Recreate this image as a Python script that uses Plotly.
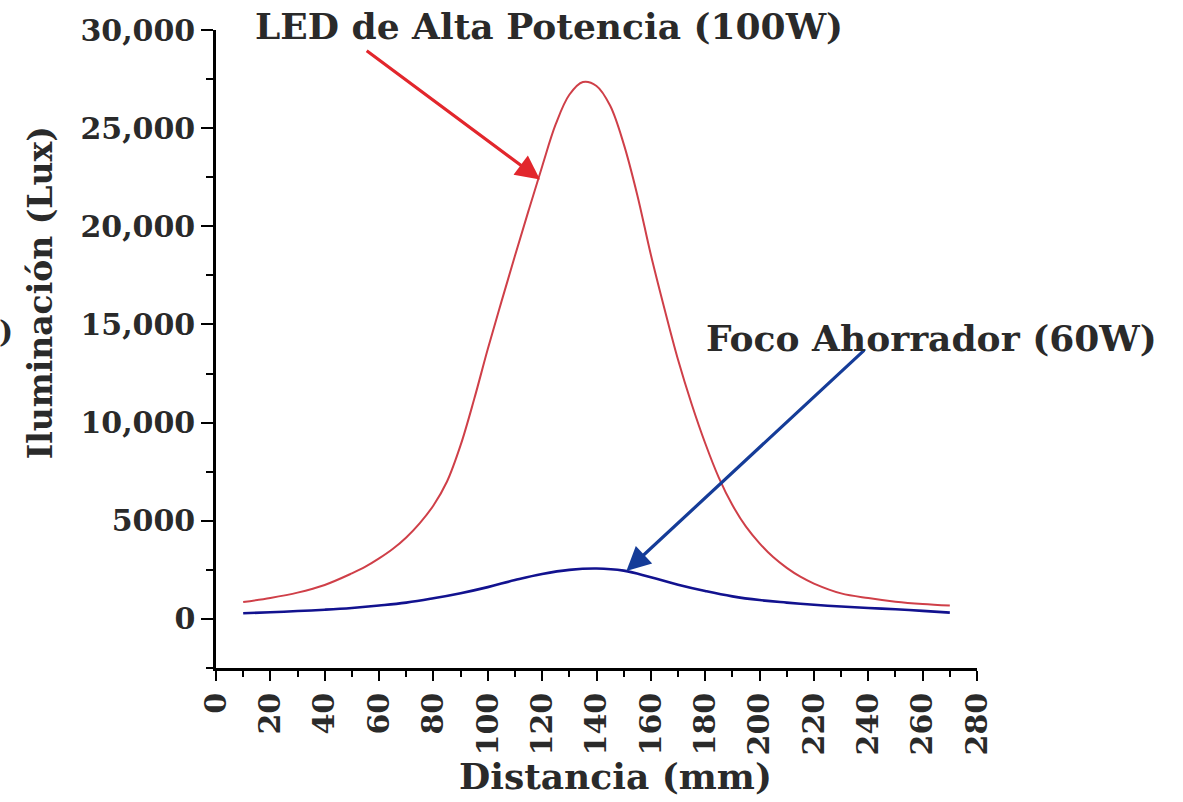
import plotly.graph_objects as go

# ---------------- data ----------------
led_x = [10, 20, 30, 40, 50, 55, 60, 65, 70, 75, 80, 85, 90, 95, 100, 105, 110, 115,
         120, 125, 130, 135, 140, 145, 150, 155, 160, 165, 170, 175, 180, 185, 190,
         195, 200, 205, 210, 215, 220, 230, 240, 250, 260, 270]
led_y = [860, 1070, 1340, 1730, 2320, 2660, 3080, 3560, 4150, 4880, 5780, 7000, 8850,
         11200, 13750, 16150, 18500, 20800, 23050, 25200, 26700, 27350, 27150, 26150,
         24200, 21600, 18550, 15800, 13200, 10950, 8950, 7200, 5800, 4700, 3850, 3150,
         2600, 2150, 1800, 1300, 1060, 880, 760, 680]

foco_x = [10, 20, 30, 40, 50, 60, 70, 80, 90, 100, 110, 120, 130, 140, 150, 160,
          170, 180, 190, 200, 210, 220, 230, 240, 250, 260, 270]
foco_y = [290, 340, 400, 470, 560, 680, 830, 1050, 1310, 1620, 1980, 2290, 2500,
          2570, 2460, 2120, 1740, 1420, 1150, 960, 830, 720, 630, 560, 490, 410, 320]

x_tickvals = [0, 20, 40, 60, 80, 100, 120, 140, 160, 180, 200, 220, 240, 260, 280]
x_ticktext = [str(v) for v in x_tickvals]
y_tickvals = [0, 5000, 10000, 15000, 20000, 25000, 30000]
y_ticktext = ["0", "5000", "10,000", "15,000", "20,000", "25,000", "30,000"]

label_led = "LED de Alta Potencia (100W)"
label_foco = "Foco Ahorrador (60W)"
x_title = "Distancia (mm)"
y_title = "Iluminación (Lux)"

# annotation placement (not data)
led_arrow = dict(tail=(54.9, 29000), tip=(119.2, 22390))
foco_arrow = dict(tail=(239.0, 13750), tip=(151.0, 2440))

FONT = "DejaVu Serif"
TXT = "#2a2a2a"

fig = go.Figure()
fig.add_trace(go.Scatter(x=led_x, y=led_y, mode="lines",
                         line=dict(color="#cf3f48", width=2, shape="spline", smoothing=1.0),
                         hoverinfo="skip"))
fig.add_trace(go.Scatter(x=foco_x, y=foco_y, mode="lines",
                         line=dict(color="#12128f", width=2.6, shape="spline", smoothing=1.2),
                         hoverinfo="skip"))

axis_common = dict(showgrid=False, zeroline=False, showline=True, linecolor="black",
                   linewidth=2.5, ticks="outside", tickcolor="black", tickwidth=2,
                   tickfont=dict(family=FONT, size=30, color=TXT, weight="bold"))

fig.update_xaxes(range=[0, 280], tickvals=x_tickvals, ticktext=x_ticktext,
                 tickangle=-90, ticklen=10,
                 minor=dict(dtick=10, tick0=0, ticks="outside", ticklen=6, tickwidth=2,
                            tickcolor="black", showgrid=False),
                 **axis_common)
fig.update_yaxes(range=[-2500, 30000], tickvals=y_tickvals, ticktext=y_ticktext,
                 ticklen=12,
                 minor=dict(dtick=2500, tick0=0, ticks="outside", ticklen=7, tickwidth=2,
                            tickcolor="black", showgrid=False),
                 **axis_common)

annotations = [
    dict(x=led_arrow["tip"][0], y=led_arrow["tip"][1], ax=led_arrow["tail"][0],
         ay=led_arrow["tail"][1], xref="x", yref="y", axref="x", ayref="y", text="",
         showarrow=True, arrowhead=2, arrowsize=1.5, arrowwidth=3.2, arrowcolor="#e2262c"),
    dict(x=foco_arrow["tip"][0], y=foco_arrow["tip"][1], ax=foco_arrow["tail"][0],
         ay=foco_arrow["tail"][1], xref="x", yref="y", axref="x", ayref="y", text="",
         showarrow=True, arrowhead=2, arrowsize=1.5, arrowwidth=3.2, arrowcolor="#153c98"),
    dict(x=549, y=24, xref="paper", yref="paper", text=label_led, showarrow=False,
         font=dict(family=FONT, size=36, color=TXT, weight="bold"),
         xanchor="center", yanchor="middle"),
    dict(x=931, y=337, xref="paper", yref="paper", text=label_foco, showarrow=False,
         font=dict(family=FONT, size=36, color=TXT, weight="bold"),
         xanchor="center", yanchor="middle"),
    dict(x=615, y=776, xref="paper", yref="paper", text=x_title, showarrow=False,
         font=dict(family=FONT, size=36, color=TXT, weight="bold"),
         xanchor="center", yanchor="middle"),
    dict(x=40, y=292, xref="paper", yref="paper", text=y_title, showarrow=False,
         textangle=-90,
         font=dict(family=FONT, size=33, color=TXT, weight="bold"),
         xanchor="center", yanchor="middle"),
    dict(x=6, y=330, xref="paper", yref="paper", text=")", showarrow=False,
         font=dict(family=FONT, size=30, color=TXT, weight="bold"),
         xanchor="center", yanchor="middle"),
]

# convert pixel-placed text annotations to paper coords
W, H = 1183, 802
L, R, T, B = 216, 206, 28, 134
pw, ph = W - L - R, H - T - B
for a in annotations:
    if a.get("xref") == "paper":
        a["x"] = (a["x"] - L) / pw
        a["y"] = 1 - (a["y"] - T) / ph

fig.update_layout(width=W, height=H, margin=dict(l=L, r=R, t=T, b=B, pad=0),
                  plot_bgcolor="white", paper_bgcolor="white", showlegend=False,
                  annotations=annotations)

fig.write_html("out.html", config={"displayModeBar": False},
               post_script="document.body.style.margin='0';")
